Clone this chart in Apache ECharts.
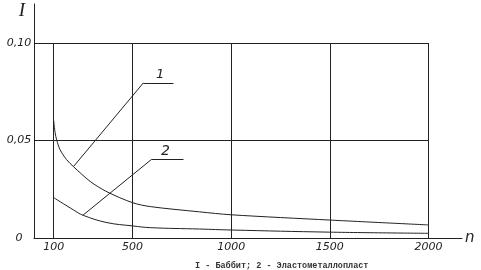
<!DOCTYPE html>
<html>
<head>
<meta charset="utf-8">
<script src="https://cdn.jsdelivr.net/npm/echarts@6/dist/echarts.min.js"></script>
<style>html,body{margin:0;padding:0;background:#fff;}#c{width:481px;height:270px;}</style>
</head>
<body>
<div id="c"></div>
<script>
// Curve 1 — Баббит
var n1 = [100, 107, 115, 132, 165, 200, 285, 370, 500, 590, 840, 1000, 1500, 2000];
var I1 = [0.0601, 0.0540, 0.0503, 0.0453, 0.0402, 0.0366, 0.0290, 0.0237, 0.0181, 0.0161, 0.0134, 0.0119, 0.0092, 0.0067];
// Curve 2 — Эластометаллопласт
var n2 = [100, 200, 250, 370, 500, 590, 840, 1000, 1500, 2000];
var I2 = [0.0207, 0.0144, 0.0116, 0.0079, 0.0062, 0.0053, 0.0046, 0.0041, 0.0030, 0.0024];
// Axis ticks / grid
var xTicks = [100, 500, 1000, 1500, 2000];
var yTicks = [0, 0.05, 0.10];
var yTickLabels = ['0', '0,05', '0,10'];
var gridY = [0.05, 0.10];
// Leader-line annotations (data coordinates): [start on curve, bend, end], label position
var lead1 = [[200, 0.0366], [555, 0.0796], [707, 0.0796]];
var lead1Label = [640, 0.0836];
var lead2 = [[247, 0.0116], [597, 0.0404], [758, 0.0404]];
var lead2Label = [666, 0.0443];
var caption = 'I - Баббит; 2 - Эластометаллопласт';

var ink = '#222';
function zip(xs, ys) { return xs.map(function (x, i) { return [x, ys[i]]; }); }
function segs(pts) {
  var out = [];
  for (var i = 0; i < pts.length - 1; i++) out.push([{ coord: pts[i] }, { coord: pts[i + 1] }]);
  return out;
}
var gridLines = [];
xTicks.forEach(function (x) { gridLines.push([{ coord: [x, 0] }, { coord: [x, 0.10] }]); });
gridY.forEach(function (y) { gridLines.push([{ coord: [0, y] }, { coord: [2000, y] }]); });

var chart = echarts.init(document.getElementById('c'), null, { renderer: 'canvas' });
chart.setOption({
  animation: false,
  backgroundColor: '#fff',
  title: {
    text: caption, left: 190, top: 256,
    textStyle: { fontFamily: 'Liberation Mono', fontSize: 8.5, fontWeight: 'bold', color: '#333' }
  },
  grid: { left: 34, right: 19, top: 4, bottom: 32 },
  xAxis: {
    type: 'value', min: 0, max: 2170,
    name: 'n', nameLocation: 'end', nameGap: 3,
    nameTextStyle: { fontFamily: 'DejaVu Sans', fontStyle: 'italic', fontSize: 15, color: ink, align: 'left', verticalAlign: 'middle', padding: [0, 0, 12, 0] },
    axisLine: { lineStyle: { color: ink, width: 1 } },
    axisTick: { show: false },
    splitLine: { show: false },
    axisLabel: {
      customValues: xTicks, margin: 4,
      fontFamily: 'DejaVu Sans', fontStyle: 'italic', fontSize: 11, color: ink,
      formatter: function (v) { return String(v); }
    }
  },
  yAxis: {
    type: 'value', min: 0, max: 0.12,
    name: 'I', nameLocation: 'end', nameGap: -16,
    nameTextStyle: { fontFamily: 'Liberation Serif', fontStyle: 'italic', fontSize: 19, color: ink, align: 'right', padding: [0, 9, 0, 0] },
    axisLine: { show: true, lineStyle: { color: ink, width: 1 } },
    axisTick: { show: false },
    splitLine: { show: false },
    axisLabel: {
      customValues: yTicks, margin: 15, align: 'center', padding: [0, 0, 8, 0],
      fontFamily: 'DejaVu Sans', fontStyle: 'italic', fontSize: 11, color: ink,
      formatter: function (v) { var i = yTicks.indexOf(v); return i >= 0 ? yTickLabels[i] : ''; }
    }
  },
  series: [
    {
      name: 'Баббит', type: 'line', data: zip(n1, I1), smooth: 0.3, symbol: 'none',
      lineStyle: { color: ink, width: 1 },
      markLine: {
        silent: true, symbol: 'none', label: { show: false },
        lineStyle: { color: ink, width: 1, type: 'solid' },
        data: gridLines.concat(segs(lead1))
      },
      markPoint: {
        symbol: 'circle', symbolSize: 0,
        label: { show: true, formatter: '1', fontFamily: 'DejaVu Sans', fontStyle: 'italic', fontSize: 13, color: ink, position: 'inside' },
        data: [{ coord: lead1Label }]
      }
    },
    {
      name: 'Эластометаллопласт', type: 'line', data: zip(n2, I2), smooth: 0.4, symbol: 'none',
      lineStyle: { color: ink, width: 1 },
      markLine: {
        silent: true, symbol: 'none', label: { show: false },
        lineStyle: { color: ink, width: 1, type: 'solid' },
        data: segs(lead2)
      },
      markPoint: {
        symbol: 'circle', symbolSize: 0,
        label: { show: true, formatter: '2', fontFamily: 'DejaVu Sans', fontStyle: 'italic', fontSize: 14, color: ink, position: 'inside' },
        data: [{ coord: lead2Label }]
      }
    }
  ]
});
</script>
</body>
</html>
